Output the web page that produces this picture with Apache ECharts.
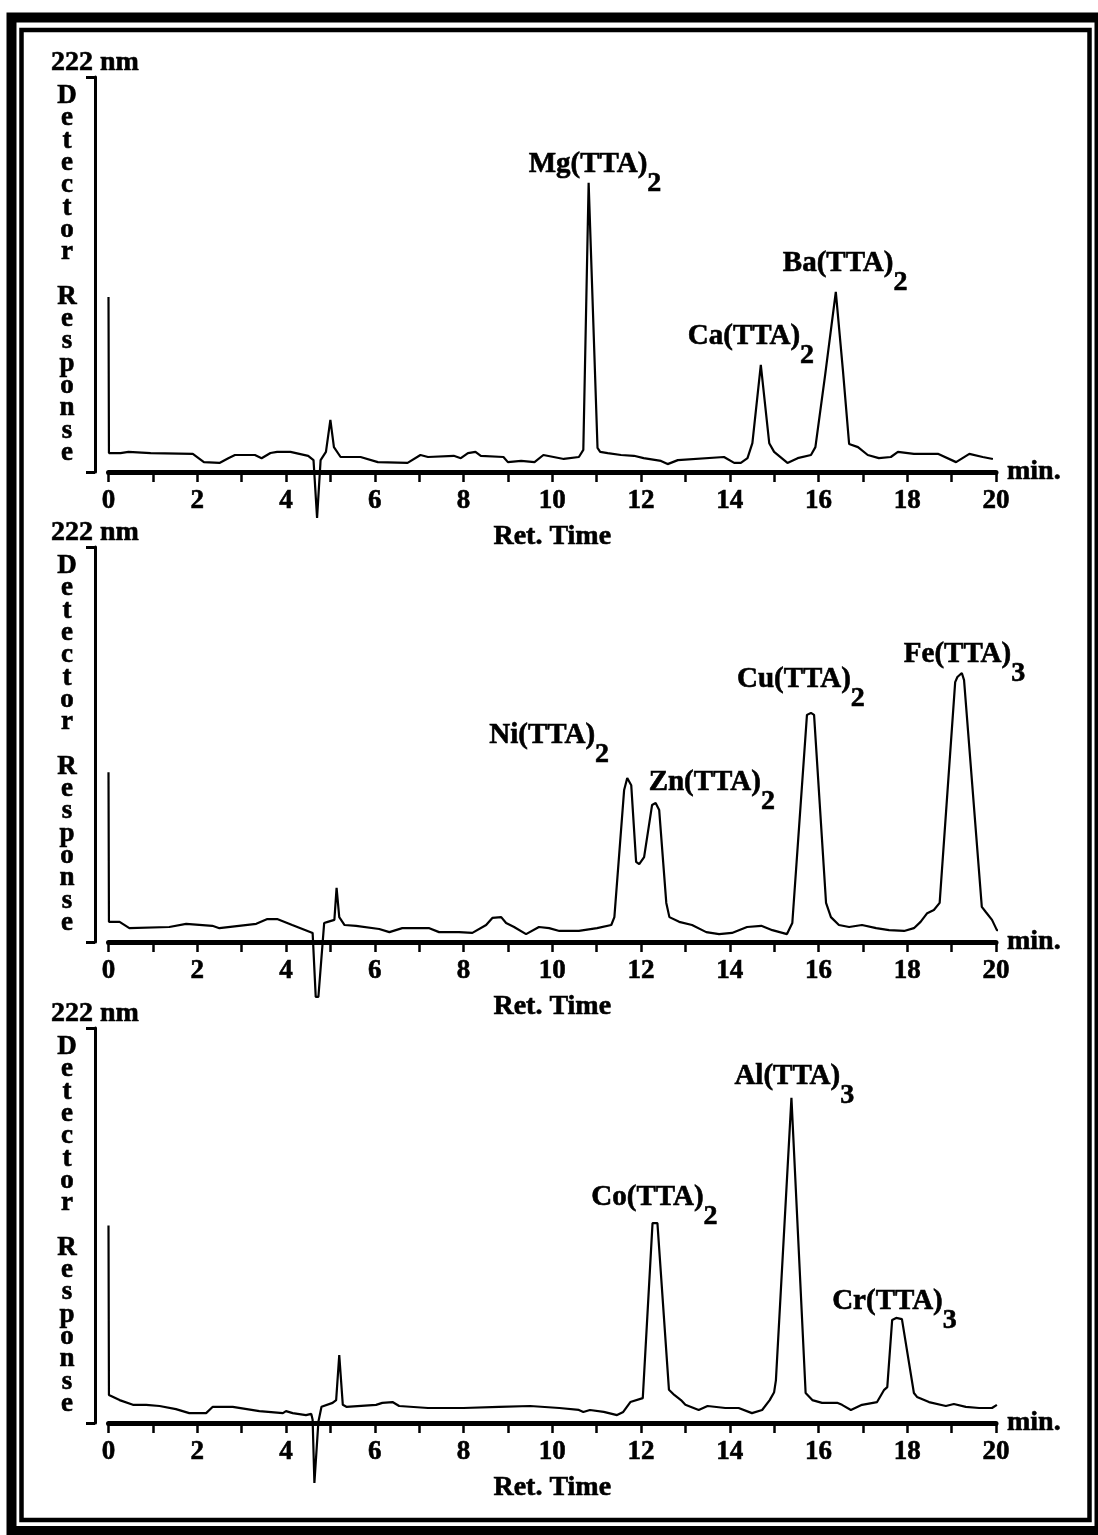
<!DOCTYPE html>
<html><head><meta charset="utf-8">
<script src="https://cdn.jsdelivr.net/npm/echarts@6/dist/echarts.min.js"></script>
<style>html,body{margin:0;padding:0;background:#fff}#c{width:1098px;height:1535px}</style>
</head><body><div id="c"></div>
<script>
// ---------------- data (retention time in min, response in arbitrary units 0-100) ----------------
const xTickLabels = [0, 2, 4, 6, 8, 10, 12, 14, 16, 18, 20];
const wavelengthLabel = '222 nm';
const yTitle = 'Detector Response';
const xTitle = 'Ret. Time';
const xUnit = 'min.';

const traceTop = [
  [0.00,44.3],[0.01,4.8],[0.27,4.8],[0.45,5.1],[0.95,4.8],[1.90,4.6],[2.15,2.5],[2.50,2.3],[2.70,3.5],[2.85,4.3],
  [3.30,4.3],[3.45,3.5],[3.65,4.8],[3.80,5.1],[4.10,5.1],[4.50,4.1],[4.62,3.0],[4.70,-11.6],[4.78,3.0],[4.90,5.1],
  [5.00,13.2],[5.08,6.3],[5.23,3.8],[5.68,3.8],[6.07,2.5],[6.74,2.3],[7.03,4.3],[7.20,3.8],[7.78,4.1],[7.94,3.5],
  [8.10,4.8],[8.27,5.1],[8.39,4.1],[8.90,3.8],[9.00,2.5],[9.30,2.8],[9.60,2.5],[9.80,4.3],[10.26,3.3],[10.60,3.8],
  [10.70,5.6],[10.72,6.1],[10.82,73.2],[11.02,6.1],[11.08,5.1],[11.25,4.8],[11.55,4.3],[11.84,4.1],[12.06,3.5],
  [12.45,2.8],[12.60,2.0],[12.83,3.0],[13.87,3.8],[14.10,2.3],[14.25,2.3],[14.40,3.5],[14.51,7.3],[14.70,27.1],
  [14.89,7.3],[15.00,5.1],[15.30,2.3],[15.53,3.5],[15.83,4.3],[15.93,6.3],[16.15,24.6],[16.39,45.6],[16.55,25.8],
  [16.69,7.1],[16.89,6.3],[17.11,4.3],[17.36,3.5],[17.63,3.8],[17.79,5.1],[18.15,4.6],[18.69,4.6],[19.10,2.5],
  [19.40,4.6],[19.70,3.8],[19.93,3.3]
];
const traceMid = [
  [0.00,43.0],[0.01,5.1],[0.25,5.1],[0.47,3.5],[1.37,3.8],[1.75,4.6],[2.34,4.1],[2.50,3.5],[3.33,4.6],[3.58,5.8],
  [3.80,5.8],[4.14,4.3],[4.60,2.3],[4.67,-13.9],[4.73,-13.9],[4.86,4.8],[4.94,5.1],[5.09,5.6],[5.14,13.7],[5.20,6.3],
  [5.32,4.3],[5.58,4.1],[6.10,3.3],[6.33,2.5],[6.62,3.5],[7.23,3.5],[7.45,2.5],[7.90,2.5],[8.20,2.3],[8.51,4.3],
  [8.65,6.1],[8.85,6.3],[8.96,4.8],[9.14,3.8],[9.41,2.0],[9.70,3.8],[9.93,3.5],[10.16,2.8],[10.60,2.8],[11.01,3.5],
  [11.33,4.3],[11.40,6.3],[11.62,38.5],[11.69,41.5],[11.78,39.7],[11.89,20.3],[11.96,19.7],[12.07,21.5],[12.25,34.7],
  [12.33,35.2],[12.41,33.4],[12.57,9.9],[12.64,6.3],[12.86,5.1],[13.15,4.3],[13.47,2.5],[13.76,2.0],[14.05,2.3],
  [14.39,3.8],[14.71,4.1],[14.96,3.0],[15.29,2.0],[15.41,4.8],[15.74,57.5],[15.83,58.0],[15.90,57.5],[16.17,9.9],
  [16.28,6.3],[16.46,4.3],[16.69,3.8],[16.98,4.3],[17.30,3.5],[17.59,3.0],[17.93,2.8],[18.15,3.5],[18.30,5.1],
  [18.45,7.3],[18.60,8.1],[18.73,9.9],[19.08,65.8],[19.13,67.1],[19.23,68.1],[19.28,66.3],[19.68,8.9],[19.77,7.6],
  [19.91,5.6],[20.02,3.0],[20.20,2.8],[20.34,4.8]
];
const traceBot = [
  [0.00,50.0],[0.01,7.1],[0.25,5.8],[0.55,4.6],[0.85,4.6],[1.15,4.3],[1.52,3.5],[1.82,2.5],[2.20,2.5],[2.35,4.1],
  [2.80,4.1],[3.40,3.0],[3.93,2.5],[4.00,3.0],[4.15,2.5],[4.45,2.0],[4.57,2.3],[4.60,0.8],[4.64,-15.2],[4.73,0.3],
  [4.80,4.1],[5.05,5.1],[5.13,5.8],[5.20,17.2],[5.28,4.6],[5.36,4.1],[6.03,4.6],[6.17,5.1],[6.40,5.3],[6.55,4.3],
  [7.20,3.8],[8.00,3.8],[8.80,4.1],[9.50,4.3],[10.16,3.8],[10.60,3.3],[10.70,2.8],[10.85,3.3],[11.16,2.8],[11.46,2.0],
  [11.60,2.8],[11.76,5.3],[12.04,6.3],[12.26,50.6],[12.37,50.6],[12.63,8.4],[12.75,7.1],[12.90,5.8],[13.00,4.6],
  [13.30,3.3],[13.50,4.3],[13.90,3.8],[14.20,3.8],[14.50,2.5],[14.73,3.3],[14.90,5.8],[15.00,7.8],[15.04,10.8],
  [15.39,82.3],[15.71,7.6],[15.86,5.8],[16.08,5.1],[16.42,5.1],[16.53,4.6],[16.73,3.3],[16.98,4.6],[17.32,5.3],
  [17.48,8.4],[17.55,9.1],[17.66,26.1],[17.75,26.6],[17.88,26.3],[18.15,7.6],[18.22,6.6],[18.49,5.3],[18.87,4.3],
  [19.05,4.8],[19.32,4.1],[19.62,3.8],[19.91,3.8],[20.02,4.6]
];

// peak annotations: compound, subscript, retention time, apex response
const peaksTop = [
  {name:'Mg(TTA)', sub:'2', rt:10.82, h:73.2},
  {name:'Ca(TTA)', sub:'2', rt:14.70, h:27.1},
  {name:'Ba(TTA)', sub:'2', rt:16.39, h:45.6}
];
const peaksMid = [
  {name:'Ni(TTA)', sub:'2', rt:11.69, h:41.5},
  {name:'Zn(TTA)', sub:'2', rt:12.33, h:35.2},
  {name:'Cu(TTA)', sub:'2', rt:15.83, h:58.0},
  {name:'Fe(TTA)', sub:'3', rt:19.23, h:68.1}
];
const peaksBot = [
  {name:'Co(TTA)', sub:'2', rt:12.30, h:50.6},
  {name:'Al(TTA)', sub:'3', rt:15.39, h:82.3},
  {name:'Cr(TTA)', sub:'3', rt:17.75, h:26.6}
];

// ---------------- layout / style ----------------
const FONT = '"Liberation Serif","Times New Roman",serif';
const panelTops = [77, 547, 1028];
const panelH = 395;
const gridLeft = 108.5, gridRight = 102;
const labelOffsets = [
  [[-60,-33],[-73,-43],[-53,-43]],
  [[-138,-57],[-7,-35],[-74,-48],[-58,-33]],
  [[-63,-40],[-57,-36],[-64,-31]]
];
const panels = [
  {trace: traceTop, peaks: peaksTop},
  {trace: traceMid, peaks: peaksMid},
  {trace: traceBot, peaks: peaksBot}
];

const grids = [], xAxes = [], yAxes = [], series = [], graphics = [];
const boldText = (size) => ({fontFamily: FONT, fontWeight: 'bold', fontSize: size, color: '#000',
  textBorderColor: '#000', textBorderWidth: 0.6});

panels.forEach((p, i) => {
  grids.push({left: gridLeft, right: gridRight, top: panelTops[i], height: panelH, containLabel: false});
  xAxes.push({
    gridIndex: i, type: 'value', min: 0, max: 20, interval: 1,
    axisLine: {show: true, onZero: false, lineStyle: {color: '#000', width: 5, cap: 'round'}},
    axisTick: {show: true, length: 10, lineStyle: {color: '#000', width: 2.5}},
    axisLabel: Object.assign(boldText(27), {margin: 16, formatter: v => xTickLabels.includes(v) ? String(v) : ''}),
    splitLine: {show: false},
    name: xUnit, nameLocation: 'end', nameGap: 11,
    nameTextStyle: Object.assign(boldText(28), {verticalAlign: 'middle', padding: [0, 0, 8, 0]})
  });
  xAxes.push({
    gridIndex: i, type: 'value', min: 0, max: 20, position: 'bottom',
    axisLine: {show: false}, axisTick: {show: false}, axisLabel: {show: false}, splitLine: {show: false},
    name: xTitle, nameLocation: 'middle', nameGap: 51, nameTextStyle: boldText(28)
  });
  yAxes.push({
    gridIndex: i, type: 'value', min: 0, max: 100, interval: 100, offset: 13.5,
    axisLine: {show: true, onZero: false, lineStyle: {color: '#000', width: 3}},
    axisTick: {show: true, length: 9, lineStyle: {color: '#000', width: 3}},
    axisLabel: {show: false}, splitLine: {show: false},
    name: wavelengthLabel, nameLocation: 'end', nameGap: 0, nameTextStyle: boldText(28)
  });
  series.push({
    type: 'line', xAxisIndex: i * 2, yAxisIndex: i, data: p.trace, symbol: 'none', clip: false,
    lineStyle: {color: '#000', width: 2.2}, z: 5, silent: true,
    markPoint: {
      symbol: 'circle', symbolSize: 0, silent: true, itemStyle: {color: 'transparent'},
      label: {
        show: true, position: 'inside', align: 'left', verticalAlign: 'top',
        rich: {
          m: Object.assign(boldText(29), {lineHeight: 30, verticalAlign: 'top'}),
          s: Object.assign(boldText(28), {lineHeight: 30, padding: [20, 0, 0, 0], verticalAlign: 'top'})
        }
      },
      data: p.peaks.map((pk, k) => ({
        coord: [pk.rt, pk.h],
        label: {offset: labelOffsets[i][k], formatter: '{m|' + pk.name + '}{s|' + pk.sub + '}'}
      }))
    }
  });
  graphics.push({
    type: 'text', x: 67, y: panelTops[i] + panelH / 2, z: 10,
    style: {
      text: yTitle.split(' ').map(w => w.split('').join('\n')).join('\n\n'),
      fontFamily: FONT, fontWeight: 'bold', fontSize: 27, lineHeight: 22.3,
      fill: '#000', stroke: '#000', lineWidth: 0.6, align: 'center', verticalAlign: 'middle'
    }
  });
});

// double frame
graphics.push({type: 'rect', shape: {x: 11.5, y: 17.5, width: 1088, height: 1513.5},
  style: {fill: 'none', stroke: '#000', lineWidth: 10}, z: 1});
graphics.push({type: 'rect', shape: {x: 21.5, y: 30, width: 1068, height: 1490},
  style: {fill: 'none', stroke: '#000', lineWidth: 4.5}, z: 1});

const chart = echarts.init(document.getElementById('c'), null, {renderer: 'canvas'});
chart.setOption({
  animation: false, backgroundColor: '#fff',
  grid: grids, xAxis: xAxes, yAxis: yAxes, series: series, graphic: graphics
});
</script></body></html>
